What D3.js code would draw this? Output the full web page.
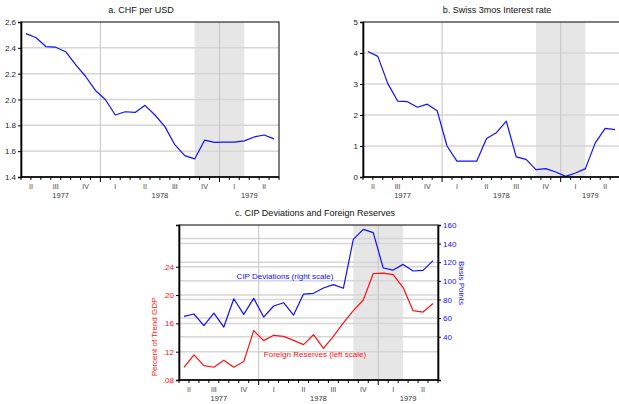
<!DOCTYPE html>
<html>
<head>
<meta charset="utf-8">
<script src="https://cdn.jsdelivr.net/npm/d3@7"></script>
<style>
  html, body { margin: 0; padding: 0; background: #fff; }
  svg { display: block; font-family: "Liberation Sans", Arial, sans-serif; }
</style>
</head>
<body>
<div id="chart"></div>
<script>
/* ── Data: monthly observations, May 1977 – Jun 1979 ── */
const months = [
  "1977-05","1977-06","1977-07","1977-08","1977-09","1977-10","1977-11","1977-12",
  "1978-01","1978-02","1978-03","1978-04","1978-05","1978-06","1978-07","1978-08",
  "1978-09","1978-10","1978-11","1978-12","1979-01","1979-02","1979-03","1979-04",
  "1979-05","1979-06"
];
const quarterNames = ["I", "II", "III", "IV"];

const chfPerUsd = [
  2.51, 2.48, 2.41, 2.405, 2.37, 2.27, 2.18, 2.07, 2.00, 1.88, 1.905, 1.90, 1.955,
  1.88, 1.79, 1.65, 1.565, 1.54, 1.685, 1.668, 1.67, 1.67, 1.68, 1.71, 1.725, 1.695
];
const swissRate = [
  4.05, 3.89, 3.02, 2.45, 2.43, 2.25, 2.35, 2.14, 1.00, 0.51, 0.51, 0.51, 1.24,
  1.43, 1.80, 0.65, 0.57, 0.24, 0.27, 0.16, 0.02, 0.13, 0.27, 1.10, 1.57, 1.53
];
const cipDeviation = [
  61.8, 64.4, 51.8, 65.4, 50.4, 80.8, 64.0, 81.2, 61.1, 73.0, 76.5, 63.3, 85.8,
  86.6, 92.3, 95.9, 92.0, 144.6, 155.3, 151.8, 113.8, 111.6, 117.7, 110.6, 111.3, 121.7
];
const foreignReserves = [
  0.098, 0.1156, 0.1004, 0.098, 0.108, 0.098, 0.106, 0.1498, 0.1356, 0.1431, 0.1417,
  0.136, 0.130, 0.144, 0.1246, 0.1417, 0.1607, 0.178, 0.193, 0.2305, 0.231, 0.229,
  0.2106, 0.178, 0.176, 0.188
];

const chfTicks  = [1.4, 1.6, 1.8, 2.0, 2.2, 2.4, 2.6];
const rateTicks = [0, 1, 2, 3, 4, 5];
const resTicks  = [0.08, 0.12, 0.16, 0.20, 0.24];
const resGrid   = [0.12, 0.16, 0.20, 0.24, 0.28];
const cipTicks  = [40, 60, 80, 100, 120, 140, 160];

const shadeFrom = "1978-10";
const shadeTo   = "1979-03";

/* ── Styling ── */
const BLUE = "#1010ff";
const RED  = "#ff1010";
const GRID = "#d6d6d6";
const SHADE = "#e6e6e6";

const svg = d3.select("#chart").append("svg")
  .attr("width", 619).attr("height", 404);

function drawPanel(o) {
  const x = d3.scaleBand().domain(months).range([o.l, o.r]);
  const bw = x.bandwidth();
  const cx = m => x(m) + bw / 2;

  const g = svg.append("g");

  // shading between two observations
  g.append("rect")
    .attr("x", cx(shadeFrom)).attr("y", o.t)
    .attr("width", cx(shadeTo) - cx(shadeFrom)).attr("height", o.b - o.t)
    .attr("fill", SHADE);

  // horizontal gridlines for each y axis
  o.axes.forEach(a => {
    (a.grid || a.ticks).forEach(v => {
      const yy = a.y(v);
      if (yy <= o.t + 0.5 || yy >= o.b - 0.5) return;
      g.append("line")
        .attr("x1", o.l).attr("x2", o.r).attr("y1", yy).attr("y2", yy)
        .attr("stroke", GRID).attr("stroke-width", 1.5);
    });
  });

  // vertical line at each new year
  months.filter(m => m.endsWith("-01")).forEach(m => {
    g.append("line")
      .attr("x1", x(m)).attr("x2", x(m)).attr("y1", o.t).attr("y2", o.b)
      .attr("stroke", "#c4c4c4").attr("stroke-width", 1);
  });

  // series
  o.series.forEach(s => {
    const line = d3.line().x((d, i) => cx(months[i])).y(d => s.y(d));
    g.append("path").datum(s.values)
      .attr("d", line).attr("fill", "none")
      .attr("stroke", s.color).attr("stroke-width", 1.2)
      .attr("stroke-linejoin", "round");
  });

  // frame
  g.append("rect")
    .attr("x", o.l).attr("y", o.t).attr("width", o.r - o.l).attr("height", o.b - o.t)
    .attr("fill", "none").attr("stroke", "#000").attr("stroke-width", 1);
  g.append("line").attr("x1", o.l).attr("x2", o.r).attr("y1", o.b).attr("y2", o.b)
    .attr("stroke", "#000").attr("stroke-width", 1.6);

  // y axes
  o.axes.forEach(a => {
    const ax = (a.side === "left" ? d3.axisLeft(a.y) : d3.axisRight(a.y))
      .tickValues(a.ticks).tickSize(3).tickPadding(2).tickFormat(a.format);
    const ag = g.append("g")
      .attr("transform", `translate(${a.side === "left" ? o.l : o.r},0)`)
      .call(ax);
    ag.select(".domain").attr("stroke", "#000").attr("stroke-width", 1.6);
    ag.selectAll(".tick line").attr("stroke", "#000");
    ag.selectAll(".tick text")
      .attr("font-size", 8).attr("font-family", "Liberation Sans, Arial, sans-serif")
      .attr("fill", a.color || "#222");
  });

  // month ticks on the time axis
  const edges = months.map(m => x(m)).concat([o.r]);
  const tickLen = months.map(m => m.endsWith("-01") ? 5 : 3).concat([3]);
  edges.forEach((ex, i) => {
    g.append("line")
      .attr("x1", ex).attr("x2", ex).attr("y1", o.b).attr("y2", o.b + tickLen[i])
      .attr("stroke", "#000").attr("stroke-width", 1);
  });

  // quarter labels, centred on the visible part of each quarter
  const byQuarter = d3.groups(months, m => {
    const [yr, mo] = m.split("-").map(Number);
    return yr + "Q" + Math.floor((mo - 1) / 3);
  });
  byQuarter.forEach(([key, ms]) => {
    const q = +key.split("Q")[1];
    const mid = (x(ms[0]) + x(ms[ms.length - 1]) + bw) / 2;
    g.append("text")
      .attr("x", mid).attr("y", o.b + 12)
      .attr("text-anchor", "middle").attr("font-size", 7).attr("fill", "#444")
      .text(quarterNames[q]);
  });

  // year labels
  const byYear = d3.groups(months, m => m.slice(0, 4));
  byYear.forEach(([yr, ms]) => {
    const mid = (x(ms[0]) + x(ms[ms.length - 1]) + bw) / 2;
    g.append("text")
      .attr("x", mid).attr("y", o.b + 20.5)
      .attr("text-anchor", "middle").attr("font-size", 7.5).attr("fill", "#333")
      .text(yr);
  });

  // title
  g.append("text")
    .attr("x", o.titleX).attr("y", o.t - 9)
    .attr("text-anchor", "middle").attr("font-size", 9).attr("fill", "#111")
    .text(o.title);

  return { x, cx, g };
}

/* ── Panel a ── */
const yA = d3.scaleLinear().domain([1.4, 2.6]).range([177, 22]);
drawPanel({
  l: 21, r: 279, t: 22, b: 177, titleX: 141,
  title: "a. CHF per USD",
  axes: [{ side: "left", y: yA, ticks: chfTicks, format: d3.format(".1f") }],
  series: [{ values: chfPerUsd, y: yA, color: BLUE }]
});

/* ── Panel b ── */
const yB = d3.scaleLinear().domain([0, 5]).range([177, 22]);
drawPanel({
  l: 363, r: 620, t: 22, b: 177, titleX: 497,
  title: "b. Swiss 3mos Interest rate",
  axes: [{ side: "left", y: yB, ticks: rateTicks, format: d3.format("d") }],
  series: [{ values: swissRate, y: yB, color: BLUE }]
});

/* ── Panel c ── */
const yRes = d3.scaleLinear().domain([0.08, 0.299]).range([380, 225]);
const yCip = d3.scaleLinear().domain([-6.5, 160]).range([380, 225]);
const pc = drawPanel({
  l: 179, r: 438, t: 225, b: 380, titleX: 315,
  title: "c. CIP Deviations and Foreign Reserves",
  axes: [
    { side: "left", y: yRes, ticks: resTicks, grid: resGrid, color: RED,
      format: v => d3.format(".2f")(v).replace(/^0/, "") },
    { side: "right", y: yCip, ticks: cipTicks, color: BLUE, format: d3.format("d") }
  ],
  series: [
    { values: foreignReserves, y: yRes, color: RED },
    { values: cipDeviation, y: yCip, color: BLUE }
  ]
});

pc.g.append("text")
  .attr("x", 285).attr("y", 279)
  .attr("text-anchor", "middle").attr("font-size", 8).attr("fill", BLUE)
  .text("CIP Deviations (right scale)");
pc.g.append("text")
  .attr("x", 315).attr("y", 357)
  .attr("text-anchor", "middle").attr("font-size", 8).attr("fill", RED)
  .text("Foreign Reserves (left scale)");

pc.g.append("text")
  .attr("transform", "translate(157,337) rotate(-90)")
  .attr("text-anchor", "middle").attr("font-size", 8).attr("fill", RED)
  .text("Percent of Trend GDP");
pc.g.append("text")
  .attr("transform", "translate(459,283) rotate(90)")
  .attr("text-anchor", "middle").attr("font-size", 8).attr("fill", BLUE)
  .text("Basis Points");
</script>
</body>
</html>
